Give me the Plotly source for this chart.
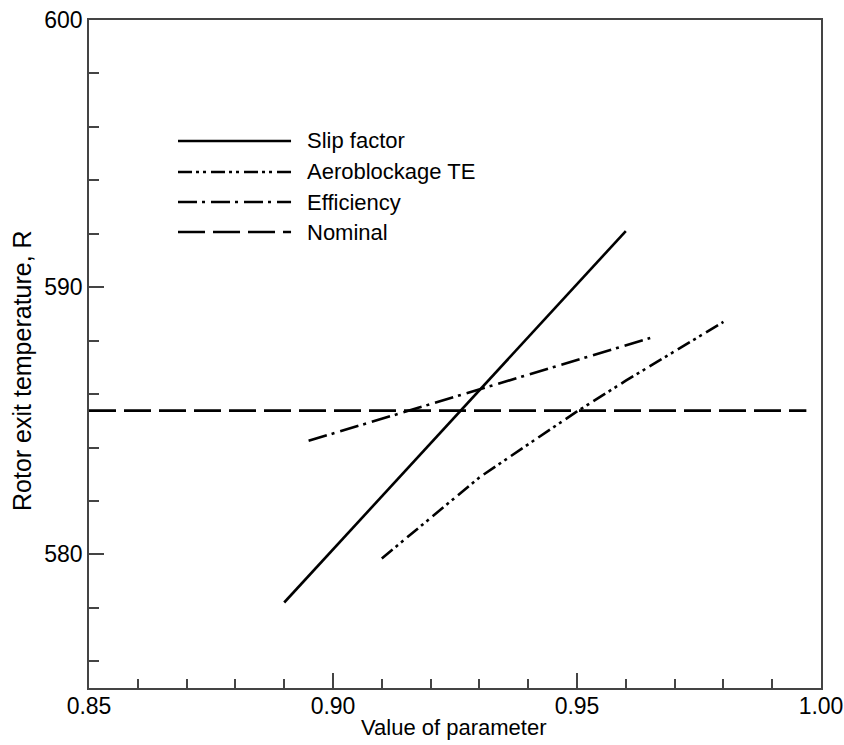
import plotly.graph_objects as go

# Rotor exit temperature vs. parameter value
slip_x = [0.890, 0.960]
slip_y = [578.2, 592.1]

aero_x = [0.910, 0.920, 0.930, 0.940, 0.950, 0.960, 0.970, 0.980]
aero_y = [579.85, 581.37, 582.88, 584.12, 585.35, 586.5, 587.6, 588.7]

eff_x = [0.895, 0.965]
eff_y = [584.25, 588.1]

nominal_x = [0.850, 0.997]
nominal_y = [585.38, 585.38]

series_names = ["Slip factor", "Aeroblockage TE", "Efficiency", "Nominal"]
x_ticks = [0.85, 0.90, 0.95, 1.00]
x_tick_text = ["0.85", "0.90", "0.95", "1.00"]
y_ticks = [580, 590, 600]
y_tick_text = ["580", "590", "600"]

FONT = "Liberation Sans, Arial, sans-serif"
LW = 2.6
dashes = [
    "solid",
    "14px,4px,3px,4px,3px,5px",
    "19px,5px,3px,6px",
    "27px,8px",
]
series = [
    (slip_x, slip_y),
    (aero_x, aero_y),
    (eff_x, eff_y),
    (nominal_x, nominal_y),
]

fig = go.Figure()
for (xs, ys), name, dash in zip(series, series_names, dashes):
    fig.add_trace(go.Scatter(
        x=xs, y=ys, mode="lines", name=name, showlegend=False,
        line=dict(color="black", width=LW, dash=dash),
    ))

# Hand-drawn key with long line samples
key_x0, key_x1, key_text_x = 0.1216, 0.2760, 0.2950
key_y = [0.8189, 0.7725, 0.7275, 0.6826]
shapes = []
annotations = []
for name, dash, ky in zip(series_names, dashes, key_y):
    shapes.append(dict(
        type="line", xref="paper", yref="paper",
        x0=key_x0, x1=key_x1, y0=ky, y1=ky,
        line=dict(color="black", width=LW, dash=dash),
    ))
    annotations.append(dict(
        xref="paper", yref="paper", x=key_text_x, y=ky,
        xanchor="left", yanchor="middle", showarrow=False,
        text=name, font=dict(family=FONT, size=22, color="black"),
    ))

# Axis titles
annotations.append(dict(
    xref="paper", yref="paper", x=0.4975, y=-0.059,
    xanchor="center", yanchor="middle", showarrow=False,
    text="Value of parameter", font=dict(family=FONT, size=22, color="black"),
))
annotations.append(dict(
    xref="paper", yref="paper", x=-0.0915, y=0.4746,
    xanchor="center", yanchor="middle", showarrow=False, textangle=-90,
    text="Rotor exit temperature, R", font=dict(family=FONT, size=25, color="black"),
))

axis_color = "#444444"
fig.update_layout(
    width=844, height=745,
    margin=dict(l=89, r=23, t=20, b=57, autoexpand=False),
    paper_bgcolor="white", plot_bgcolor="white",
    font=dict(family=FONT, size=23, color="black"),
    shapes=shapes, annotations=annotations,
    xaxis=dict(
        range=[0.85, 1.00], tickvals=x_ticks, ticktext=x_tick_text,
        ticks="inside", ticklen=15, tickwidth=1.5, tickcolor=axis_color,
        showline=True, linecolor=axis_color, linewidth=1.8, mirror=True,
        showgrid=False, zeroline=False, ticklabelstandoff=-4,
        minor=dict(dtick=0.01, tick0=0.85, ticks="inside", ticklen=9,
                   tickwidth=1.5, tickcolor=axis_color, showgrid=False),
        tickfont=dict(family=FONT, size=23, color="black"),
    ),
    yaxis=dict(
        range=[575, 600], tickvals=y_ticks, ticktext=y_tick_text,
        ticks="inside", ticklen=15, tickwidth=1.5, tickcolor=axis_color,
        showline=True, linecolor=axis_color, linewidth=1.8, mirror=True,
        showgrid=False, zeroline=False, ticklabelstandoff=0,
        minor=dict(dtick=2, tick0=576, ticks="inside", ticklen=10,
                   tickwidth=1.5, tickcolor=axis_color, showgrid=False),
        tickfont=dict(family=FONT, size=23, color="black"),
    ),
)

fig.write_html("out.html")
